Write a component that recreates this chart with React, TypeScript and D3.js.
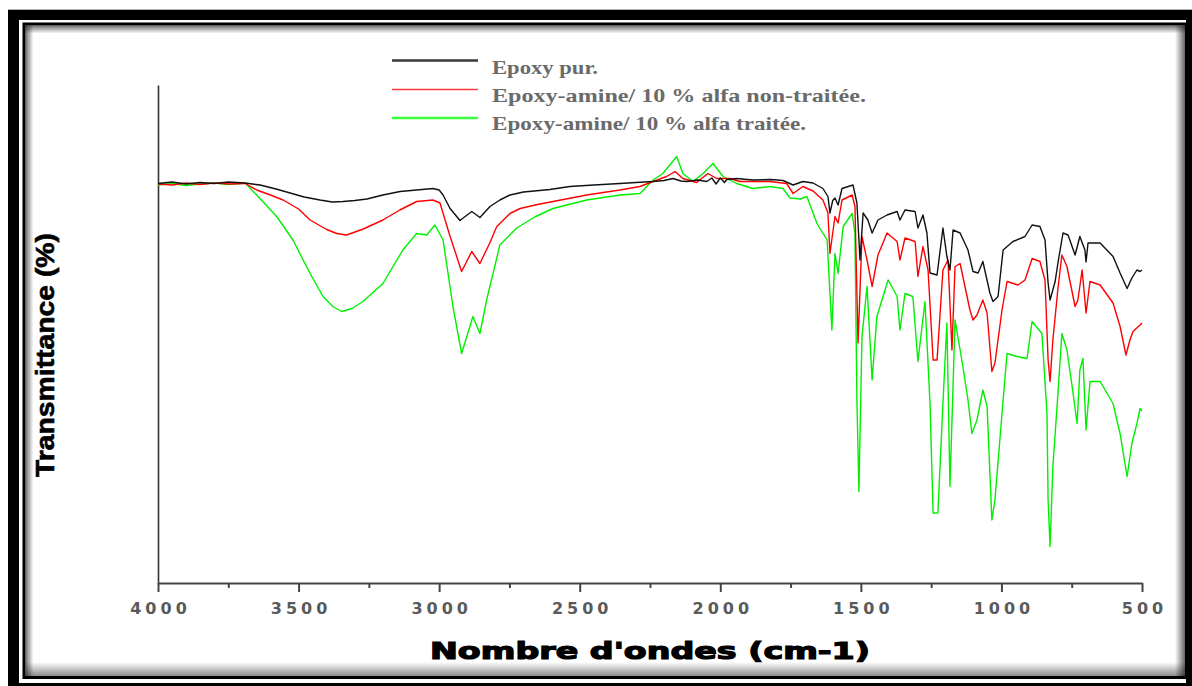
import { useEffect, useRef } from "react";
import * as d3 from "d3";

const WIDTH = 1192;
const HEIGHT = 686;

const xTicks = [4000, 3500, 3000, 2500, 2000, 1500, 1000, 500];
const xMinorTicks = [3750, 3250, 2750, 2250, 1750, 1250, 750];

const legendLabels = [
	"Epoxy pur.",
	"Epoxy-amine/ 10 % alfa non-traitée.",
	"Epoxy-amine/ 10 % alfa traitée.",
];
const legendColors = ["#3a3a3a", "#ff3b3b", "#3cff3c"];
const lineColors = ["#111111", "#ff0000", "#00f000"];

// [wavenumber cm-1, transmittance %]
const epoxyPur: [number, number][] = [
	[4000, 79.9], [3950, 80.2], [3900, 79.8], [3851, 80.1], [3800, 79.9], [3750, 80.2], [3690, 80.0],
	[3637, 79.6], [3580, 78.8], [3530, 78.0], [3480, 77.2], [3424, 76.6], [3380, 76.2], [3342, 76.3],
	[3300, 76.5], [3257, 76.8], [3200, 77.6], [3139, 78.3], [3080, 78.6], [3022, 78.9], [3000, 78.6],
	[2986, 77.6], [2961, 74.9], [2926, 72.5], [2884, 74.3], [2855, 73.1], [2819, 75.3], [2784, 76.6],
	[2748, 77.6], [2700, 78.2], [2606, 78.7], [2535, 79.3], [2450, 79.6], [2357, 79.9], [2300, 80.1],
	[2239, 80.3], [2200, 80.5], [2168, 80.9], [2140, 80.4], [2119, 80.3], [2080, 80.6], [2048, 80.3],
	[2030, 81.0], [2015, 79.8], [2000, 81.0], [1985, 80.1], [1977, 80.7], [1942, 80.9], [1884, 80.6],
	[1820, 80.7], [1777, 80.5], [1741, 79.6], [1706, 80.3], [1670, 80.0], [1635, 78.9], [1617, 77.3],
	[1610, 74.0], [1600, 76.5], [1592, 77.0], [1581, 75.6], [1567, 78.9], [1528, 79.6], [1514, 76.0],
	[1503, 64.6], [1492, 74.0], [1475, 72.6], [1460, 70.0], [1439, 72.6], [1407, 73.6], [1371, 74.3],
	[1361, 72.6], [1343, 74.6], [1307, 74.3], [1297, 71.0], [1279, 73.6], [1265, 70.0], [1254, 62.0],
	[1229, 61.6], [1208, 71.0], [1194, 65.3], [1183, 62.6], [1172, 70.6], [1147, 70.0], [1119, 66.6],
	[1101, 62.3], [1083, 62.0], [1066, 64.3], [1041, 58.0], [1030, 56.3], [1012, 57.3], [994, 66.6],
	[959, 68.3], [916, 69.3], [891, 71.6], [863, 71.3], [845, 68.6], [834, 60.0], [827, 56.6],
	[809, 60.3], [799, 64.0], [781, 70.0], [763, 69.6], [738, 65.6], [721, 69.3], [703, 66.6],
	[699, 64.2], [692, 68.0], [649, 68.0], [603, 65.3], [578, 62.0], [553, 58.9], [536, 61.0],
	[518, 62.6], [507, 62.3], [500, 62.6],
];

const nonTraitee: [number, number][] = [
	[4000, 79.8], [3950, 79.6], [3900, 80.0], [3851, 79.7], [3800, 80.0], [3744, 79.8], [3690, 79.9],
	[3649, 78.6], [3600, 77.6], [3555, 76.6], [3500, 74.8], [3459, 72.6], [3400, 70.7], [3364, 69.9],
	[3329, 69.6], [3270, 70.8], [3200, 72.6], [3140, 74.6], [3080, 76.3], [3022, 76.6], [2997, 76.0],
	[2961, 69.3], [2920, 62.3], [2884, 66.3], [2855, 63.9], [2820, 68.0], [2795, 71.3], [2748, 73.9],
	[2712, 74.9], [2650, 75.7], [2595, 76.3], [2475, 77.6], [2357, 78.6], [2286, 79.3], [2239, 80.3],
	[2191, 81.3], [2161, 82.3], [2133, 80.9], [2084, 80.1], [2044, 81.9], [2013, 80.9], [1965, 80.9],
	[1930, 80.3], [1823, 80.3], [1764, 79.9], [1741, 77.9], [1706, 79.3], [1670, 78.4], [1635, 76.6],
	[1617, 74.0], [1610, 65.9], [1592, 73.3], [1581, 72.0], [1567, 76.6], [1531, 77.6], [1521, 75.3],
	[1510, 48.0], [1496, 69.3], [1478, 64.6], [1460, 59.3], [1439, 65.6], [1407, 70.0], [1371, 68.3],
	[1361, 64.6], [1343, 69.0], [1307, 68.3], [1297, 61.3], [1279, 67.3], [1261, 62.6], [1243, 44.6],
	[1229, 44.6], [1208, 62.6], [1190, 64.6], [1176, 46.6], [1165, 63.3], [1147, 63.9], [1112, 54.6],
	[1101, 52.6], [1087, 53.6], [1066, 56.6], [1051, 54.0], [1034, 42.3], [1023, 44.0], [998, 54.6],
	[980, 60.3], [941, 59.6], [916, 60.6], [891, 64.9], [863, 64.3], [845, 60.6], [834, 44.6],
	[827, 40.3], [817, 48.6], [799, 58.9], [785, 65.6], [767, 63.3], [738, 55.3], [728, 56.6],
	[713, 62.6], [699, 54.0], [685, 60.3], [649, 59.6], [603, 56.0], [578, 51.3], [557, 45.6],
	[543, 48.6], [532, 50.3], [507, 51.6], [500, 52.0],
];

const traitee: [number, number][] = [
	[4000, 79.6], [3950, 79.9], [3900, 79.5], [3851, 79.8], [3800, 80.0], [3750, 79.7], [3690, 80.0],
	[3637, 76.9], [3578, 73.3], [3520, 68.6], [3459, 61.9], [3413, 57.3], [3378, 55.3], [3347, 54.3],
	[3310, 54.9], [3271, 56.3], [3200, 59.9], [3129, 66.6], [3080, 69.9], [3044, 69.6], [3015, 71.6],
	[2986, 68.6], [2951, 55.3], [2920, 45.9], [2880, 53.3], [2855, 49.9], [2831, 56.6], [2784, 67.6],
	[2724, 71.0], [2660, 73.2], [2595, 74.9], [2475, 76.6], [2357, 77.6], [2286, 77.9], [2239, 80.6],
	[2204, 81.9], [2155, 85.3], [2133, 81.9], [2097, 80.3], [2061, 81.9], [2026, 83.9], [1990, 81.3],
	[1942, 79.9], [1884, 78.9], [1823, 79.3], [1777, 78.9], [1752, 77.0], [1716, 76.8], [1692, 77.3],
	[1656, 71.9], [1620, 68.6], [1603, 50.6], [1592, 65.9], [1581, 61.9], [1563, 71.3], [1531, 73.9],
	[1521, 69.9], [1514, 36.6], [1507, 18.3], [1496, 49.3], [1478, 59.3], [1460, 40.6], [1443, 53.3],
	[1403, 60.6], [1371, 57.3], [1361, 50.6], [1343, 57.9], [1315, 57.3], [1297, 44.3], [1272, 56.3],
	[1254, 36.0], [1243, 14.0], [1226, 14.0], [1208, 36.0], [1194, 52.0], [1183, 19.3], [1165, 52.6],
	[1137, 43.3], [1119, 36.6], [1105, 29.9], [1087, 32.6], [1066, 38.6], [1051, 35.3], [1034, 12.6],
	[1023, 16.6], [998, 33.9], [980, 45.9], [945, 45.3], [909, 44.9], [891, 52.3], [856, 49.9],
	[838, 33.9], [834, 16.6], [827, 7.3], [817, 23.3], [799, 37.9], [785, 49.9], [767, 46.6],
	[745, 37.9], [731, 31.9], [721, 42.6], [710, 44.9], [699, 30.6], [685, 40.3], [649, 40.3],
	[603, 35.9], [578, 29.9], [553, 21.3], [536, 27.9], [518, 31.9], [507, 34.9], [500, 34.4],
];

const App = () => {
	const svgRef = useRef<SVGSVGElement>(null);

	useEffect(() => {
		const svg = d3.select(svgRef.current);
		svg.selectAll("*").remove();

		const x = d3.scaleLinear().domain([4000, 500]).range([158, 1142]);
		const y = d3.scaleLinear().domain([0, 99.6]).range([583, 85]);

		// frame
		svg.append("rect").attr("width", WIDTH).attr("height", HEIGHT).attr("fill", "#fff");
		svg.append("line").attr("x1", 8).attr("x2", WIDTH).attr("y1", 9.5).attr("y2", 9.5)
			.attr("stroke", "#b0b0b0").attr("stroke-width", 1);
		svg.append("rect").attr("x", 8).attr("y", 10).attr("width", WIDTH - 8).attr("height", HEIGHT - 10).attr("fill", "#000");
		svg.append("rect").attr("x", 19).attr("y", 20).attr("width", 1167).attr("height", 663).attr("fill", "#fff");
		svg.append("rect").attr("x", 22.5).attr("y", 22.5).attr("width", 1165).attr("height", 656.5).attr("fill", "#000");
		const px0 = 25.5, py0 = 25.5, px1 = 1185, py1 = 676;
		svg.append("rect").attr("x", px0).attr("y", py0).attr("width", px1 - px0).attr("height", py1 - py0).attr("fill", "#fff");

		const defs = svg.append("defs");
		const grad = (id: string, x1: number, y1: number, x2: number, y2: number, op: number) => {
			const g = defs.append("linearGradient").attr("id", id)
				.attr("x1", x1).attr("y1", y1).attr("x2", x2).attr("y2", y2);
			g.append("stop").attr("offset", 0).attr("stop-color", "#000").attr("stop-opacity", op);
			g.append("stop").attr("offset", 1).attr("stop-color", "#000").attr("stop-opacity", 0);
		};
		grad("shT", 0, 0, 0, 1, 0.55);
		grad("shB", 0, 1, 0, 0, 0.45);
		grad("shL", 0, 0, 1, 0, 0.55);
		grad("shR", 1, 0, 0, 0, 0.6);
		svg.append("rect").attr("x", px0).attr("y", py0).attr("width", px1 - px0).attr("height", 8).attr("fill", "url(#shT)");
		svg.append("rect").attr("x", px0).attr("y", py1 - 14).attr("width", px1 - px0).attr("height", 14).attr("fill", "url(#shB)");
		svg.append("rect").attr("x", px0).attr("y", py0).attr("width", 8).attr("height", py1 - py0).attr("fill", "url(#shL)");
		svg.append("rect").attr("x", px1 - 10).attr("y", py0).attr("width", 10).attr("height", py1 - py0).attr("fill", "url(#shR)");

		// axes
		svg.append("g")
			.attr("transform", `translate(${x(4000)},0)`)
			.call(d3.axisLeft(y).tickValues([]).tickSizeOuter(0))
			.call((g) => g.select(".domain").attr("stroke", "#333").attr("stroke-width", 1.6));

		svg.append("g")
			.attr("transform", `translate(0,${y(0)})`)
			.call(d3.axisBottom(x).tickValues(xMinorTicks).tickSize(5).tickFormat(() => ""))
			.call((g) => g.select(".domain").remove())
			.call((g) => g.selectAll(".tick line").attr("stroke", "#444").attr("stroke-width", 2));

		svg.append("g")
			.attr("transform", `translate(0,${y(0)})`)
			.call(d3.axisBottom(x).tickValues(xTicks).tickSize(9).tickSizeOuter(0).tickFormat(d3.format("d")))
			.call((g) => g.select(".domain").attr("stroke", "#444").attr("stroke-width", 1.8))
			.call((g) => g.selectAll(".tick line").attr("stroke", "#444").attr("stroke-width", 2))
			.call((g) => g.selectAll(".tick text")
				.attr("y", 20)
				.attr("dx", 2)
				.attr("fill", "#5a5a5a")
				.style("font-family", "'DejaVu Sans', sans-serif")
				.style("font-weight", "bold")
				.style("font-size", "16px")
				.style("letter-spacing", "4px"));

		// spectra
		const line = d3.line<[number, number]>().x((d) => x(d[0])).y((d) => y(d[1]));
		const series = [traitee, nonTraitee, epoxyPur];
		const seriesColors = [lineColors[2], lineColors[1], lineColors[0]];
		svg.append("g")
			.selectAll("path")
			.data(series)
			.join("path")
			.attr("d", (d) => line(d))
			.attr("fill", "none")
			.attr("stroke", (_, i) => seriesColors[i])
			.attr("stroke-width", 1.4)
			.attr("stroke-linejoin", "round");

		// legend
		const legend = svg.append("g");
		const lineY = [60.5, 89.5, 118];
		const textY = [73.5, 101.5, 129.5];
		const textLen = [106, 374, 314];
		legendLabels.forEach((label, i) => {
			legend.append("line")
				.attr("x1", 392).attr("x2", 478)
				.attr("y1", lineY[i]).attr("y2", lineY[i])
				.attr("stroke", legendColors[i])
				.attr("stroke-width", i === 1 ? 1.6 : 2.4);
			legend.append("text")
				.attr("x", 492).attr("y", textY[i])
				.attr("textLength", textLen[i])
				.attr("lengthAdjust", "spacingAndGlyphs")
				.attr("fill", "#6a6a6a")
				.style("font-family", "'Liberation Serif', serif")
				.style("font-weight", "bold")
				.style("font-size", "19px")
				.text(label);
		});

		// axis titles
		svg.append("text")
			.attr("x", 650).attr("y", 659)
			.attr("text-anchor", "middle")
			.attr("textLength", 440)
			.attr("lengthAdjust", "spacingAndGlyphs")
			.attr("fill", "#000")
			.attr("stroke", "#000")
			.attr("stroke-width", 1.2)
			.style("font-family", "'DejaVu Sans', sans-serif")
			.style("font-weight", "bold")
			.style("font-size", "23px")
			.text("Nombre d'ondes (cm-1)");

		svg.append("text")
			.attr("transform", `translate(54,355) rotate(-90)`)
			.attr("text-anchor", "middle")
			.attr("textLength", 244)
			.attr("lengthAdjust", "spacingAndGlyphs")
			.attr("fill", "#000")
			.attr("stroke", "#000")
			.attr("stroke-width", 0.6)
			.style("font-family", "'Liberation Sans', Arial, sans-serif")
			.style("font-weight", "bold")
			.style("font-size", "25px")
			.text("Transmittance (%)");
	}, []);

	return (
		<div style={{ position: "absolute", left: 0, top: 0, width: WIDTH, height: HEIGHT }}>
			<svg ref={svgRef} width={WIDTH} height={HEIGHT} style={{ display: "block" }}></svg>
		</div>
	);
};

export default App;
